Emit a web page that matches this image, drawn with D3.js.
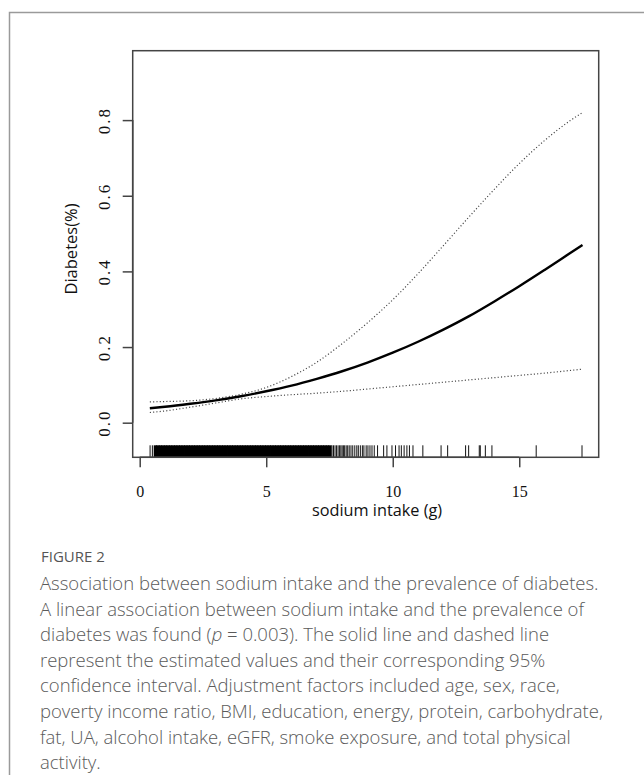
<!DOCTYPE html>
<html><head><meta charset="utf-8">
<script src="https://cdn.jsdelivr.net/npm/d3@7"></script>
<style>
html,body{margin:0;padding:0;background:#fff;}
svg{display:block;}
</style></head>
<body>
<svg id="chart" width="644" height="775"></svg>
<script>
// ---- data ----
const xGrid = [0.4, 1, 2, 3, 4, 5, 6, 7, 8, 9, 10, 11, 12, 13, 14, 15, 16, 17, 17.5];
const estimate = [0.038, 0.042, 0.050, 0.059, 0.070, 0.083, 0.098, 0.116, 0.136, 0.159, 0.185, 0.214, 0.246, 0.281, 0.320, 0.361, 0.404, 0.448, 0.470];
const upperCI  = [0.055, 0.056, 0.058, 0.064, 0.075, 0.093, 0.122, 0.160, 0.209, 0.264, 0.325, 0.394, 0.468, 0.543, 0.616, 0.685, 0.746, 0.798, 0.820];
const lowerCI  = [0.027, 0.031, 0.041, 0.052, 0.063, 0.069, 0.074, 0.078, 0.083, 0.089, 0.095, 0.101, 0.107, 0.113, 0.119, 0.125, 0.131, 0.138, 0.1415];
const rugDense = [0.62,0.72,0.82,0.92,1.02,1.12,1.22,1.32,1.42,1.52,1.62,1.72,1.82,1.92,2.02,2.12,2.22,2.32,2.42,2.52,2.62,2.72,2.82,2.92,3.02,3.12,3.22,3.32,3.42,3.52,3.62,3.72,3.82,3.92,4.02,4.12,4.22,4.32,4.42,4.52,4.62,4.72,4.82,4.92,5.02,5.12,5.22,5.32,5.42,5.52,5.62,5.72,5.82,5.92,6.02,6.12,6.22,6.32,6.42,6.52,6.62,6.72,6.82,6.92,7.02,7.12,7.22,7.32,7.42,7.52];
const rugSparse = [0.41, 0.50, 7.60, 7.66, 7.72, 7.78, 7.84, 7.90, 7.95, 8.00, 8.05, 8.10, 8.16, 8.22, 8.28, 8.35, 8.42, 8.50, 8.58, 8.64, 8.72, 8.80, 8.86, 8.95, 9.02, 9.10, 9.18, 9.27, 9.40, 9.64, 9.77, 9.97, 10.11, 10.25, 10.34, 10.45, 10.56, 10.66, 10.80, 11.19, 11.91, 12.17, 12.88, 13.00, 13.42, 13.46, 13.66, 13.92, 15.67, 17.48];
const xTicks = [0, 5, 10, 15];
const yTicks = [0.0, 0.2, 0.4, 0.6, 0.8];
const yTickLabels = ["0.0", "0.2", "0.4", "0.6", "0.8"];
const xTitle = "sodium intake (g)";
const yTitle = "Diabetes(%)";
const figLabel = "FIGURE 2";
const captionLines = [
  "Association between sodium intake and the prevalence of diabetes.",
  "A linear association between sodium intake and the prevalence of",
  "diabetes was found (|p| = 0.003). The solid line and dashed line",
  "represent the estimated values and their corresponding 95%",
  "confidence interval. Adjustment factors included age, sex, race,",
  "poverty income ratio, BMI, education, energy, protein, carbohydrate,",
  "fat, UA, alcohol intake, eGFR, smoke exposure, and total physical",
  "activity."
];

// ---- layout ----
const svg = d3.select("#chart");
const plot = {left: 132.7, right: 598.7, top: 50.7, bottom: 457.3};
const x = d3.scaleLinear().domain([-0.277, 18.14]).range([plot.left, plot.right]);
const y = d3.scaleLinear().domain([-0.0915, 0.9835]).range([plot.bottom, plot.top]);

// outer figure frame (top + left border)
svg.append("path")
  .attr("d", `M9.5,775 V12.5 H644`)
  .attr("fill", "none").attr("stroke", "#9a9a9a").attr("stroke-width", 1.5);

// curves
const pts = arr => xGrid.map((xv, i) => [xv, arr[i]]);
const line = d3.line().x(d => x(d[0])).y(d => y(d[1])).curve(d3.curveMonotoneX);
svg.append("path").attr("d", line(pts(upperCI)))
  .attr("fill", "none").attr("stroke", "#444").attr("stroke-width", 1.2).attr("stroke-dasharray", "1.1,2.2");
svg.append("path").attr("d", line(pts(lowerCI)))
  .attr("fill", "none").attr("stroke", "#444").attr("stroke-width", 1.2).attr("stroke-dasharray", "1.1,2.2");
svg.append("path").attr("d", line(pts(estimate)))
  .attr("fill", "none").attr("stroke", "#000").attr("stroke-width", 2.4);

// rug
const rugTop = plot.bottom - 12;
svg.append("g").selectAll("line").data(rugDense).join("line")
  .attr("x1", d => x(d)).attr("x2", d => x(d))
  .attr("y1", rugTop).attr("y2", plot.bottom)
  .attr("stroke", "#000").attr("stroke-width", 3.4);
svg.append("g").selectAll("line").data(rugSparse).join("line")
  .attr("x1", d => x(d)).attr("x2", d => x(d))
  .attr("y1", rugTop).attr("y2", plot.bottom)
  .attr("stroke", "#111").attr("stroke-width", 1);

// box
svg.append("rect")
  .attr("x", plot.left).attr("y", plot.top)
  .attr("width", plot.right - plot.left).attr("height", plot.bottom - plot.top)
  .attr("fill", "none").attr("stroke", "#444").attr("stroke-width", 1.5);

// x axis
const xAxis = d3.axisBottom(x).tickValues(xTicks).tickSize(10).tickPadding(18).tickFormat(d3.format("d"));
const gx = svg.append("g").attr("transform", `translate(0,${plot.bottom})`).call(xAxis);
gx.select(".domain").attr("d", `M${x(xTicks[0])},0H${x(xTicks[xTicks.length-1])}`).attr("stroke", "#444").attr("stroke-width", 1.5);
gx.selectAll(".tick line").attr("stroke", "#444").attr("stroke-width", 1.5);
gx.selectAll(".tick text").attr("font-family", "'Liberation Serif', 'DejaVu Serif', serif").attr("font-size", 16).attr("fill", "#111");

// y axis
const yAxis = d3.axisLeft(y).tickValues(yTicks).tickSize(10).tickFormat((d, i) => yTickLabels[i]);
const gy = svg.append("g").attr("transform", `translate(${plot.left},0)`).call(yAxis);
gy.select(".domain").attr("d", `M0,${y(yTicks[0])}V${y(yTicks[yTicks.length-1])}`).attr("stroke", "#444").attr("stroke-width", 1.5);
gy.selectAll(".tick line").attr("stroke", "#444").attr("stroke-width", 1.5);
gy.selectAll(".tick text")
  .attr("x", null).attr("dy", null)
  .attr("transform", "translate(-23,0) rotate(-90)")
  .attr("text-anchor", "middle")
  .attr("font-family", "'Liberation Serif', 'DejaVu Serif', serif").attr("font-size", 17)
  .attr("letter-spacing", 2).attr("fill", "#111");

// axis titles
svg.append("text").attr("x", 377).attr("y", 516)
  .attr("text-anchor", "middle").attr("font-family", "'Open Sans', 'Noto Sans', sans-serif")
  .attr("font-size", 16.3).attr("fill", "#111").text(xTitle);
svg.append("text").attr("transform", `translate(77,249) rotate(-90)`)
  .attr("text-anchor", "middle").attr("font-family", "'Open Sans', 'Noto Sans', sans-serif")
  .attr("font-size", 16.5).attr("fill", "#111").text(yTitle);

// caption
svg.append("text").attr("x", 41).attr("y", 562)
  .attr("font-family", "'Open Sans', 'Noto Sans', sans-serif").attr("font-size", 15)
  .attr("fill", "#555").text(figLabel);
const cap = svg.append("g").attr("font-family", "'Open Sans', 'Noto Sans', sans-serif")
  .attr("font-size", 18.5).attr("font-weight", 300).attr("fill", "#5a5a5a");
captionLines.forEach((ln, i) => {
  const t = cap.append("text").attr("x", 40).attr("y", 590 + i * 25.6);
  ln.split("|").forEach((part, j) => {
    t.append("tspan").attr("font-style", j % 2 === 1 ? "italic" : null).text(part);
  });
});
</script>
</body></html>
